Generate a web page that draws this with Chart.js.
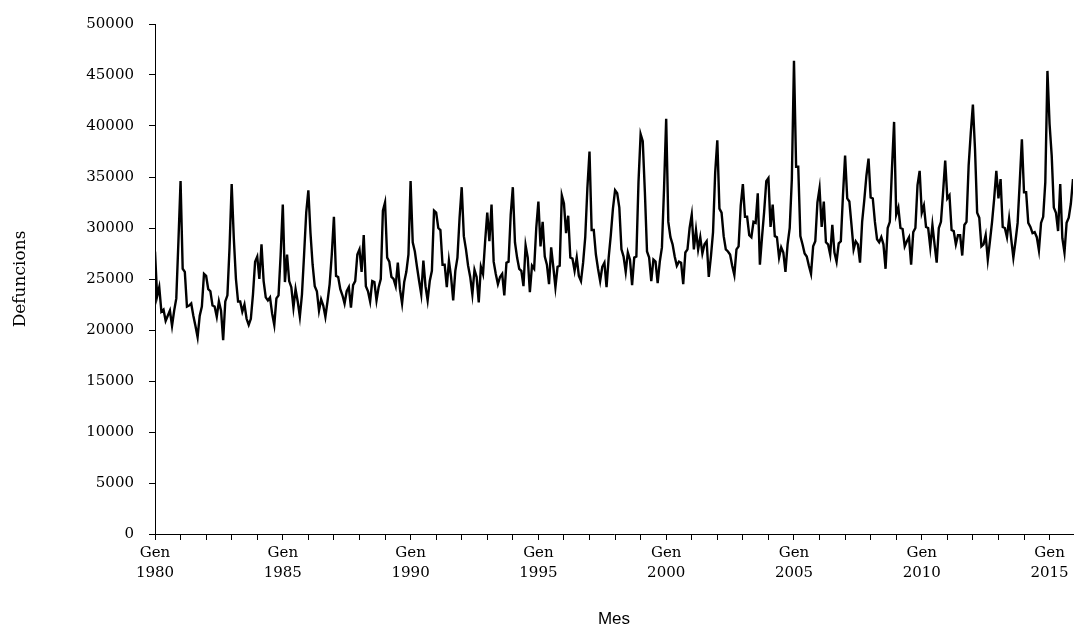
<!DOCTYPE html>
<html>
<head>
<meta charset="utf-8">
<script src="https://cdn.jsdelivr.net/npm/chart.js@4"></script>
<style>
  html, body { margin: 0; padding: 0; background: #fff; }
  #grafic { display: block; }
</style>
</head>
<body>
<canvas id="grafic" width="1077" height="632"></canvas>
<script>
// Defuncions mensuals, des de gener de 1980
const anyInici = 1980;
const nomMesos = ["Gen", "Feb", "Mar", "Abr", "Mai", "Jun", "Jul", "Ago", "Set", "Oct", "Nov", "Des"];

const defuncions = [
  27700, 23300, 24200, 21800, 22000, 20900, 21400, 21900, 20400, 21900, 23100, 28700,
  34600, 26000, 25700, 22300, 22400, 22600, 21400, 20400, 19300, 21400, 22300, 25500,
  25300, 24000, 23800, 22400, 22300, 21300, 22800, 21900, 19000, 22800, 23400, 28100,
  34300, 29000, 25000, 22800, 22800, 21800, 22500, 21100, 20500, 21100, 23500, 26700,
  27200, 25000, 28400, 24800, 23200, 22900, 23200, 21600, 20500, 23100, 23400, 27400,
  32300, 24700, 27400, 24800, 24200, 22200, 24000, 22800, 21300, 23500, 27400, 31500,
  33700, 29500, 26400, 24300, 23800, 21900, 23000, 22400, 21300, 22800, 24500, 27400,
  31100, 25300, 25200, 24000, 23400, 22600, 23800, 24200, 22200, 24400, 24800, 27400,
  27900, 25700, 29300, 24300, 23800, 22800, 24800, 24700, 22900, 24200, 25000, 31700,
  32500, 27100, 26700, 25200, 25000, 24300, 26600, 24000, 22600, 24700, 25700, 27400,
  34600, 28600, 27700, 26200, 24800, 23500, 26800, 24300, 22900, 24800, 25800, 31700,
  31500, 30000, 29800, 26400, 26400, 24200, 26800, 25200, 22900, 25800, 27100, 31000,
  34000, 29200, 27900, 26300, 25200, 23500, 25900, 25200, 22700, 26200, 25500, 28700,
  31500, 28700, 32300, 26700, 25500, 24500, 25200, 25500, 23400, 26600, 26700, 31300,
  34000, 28600, 27100, 26000, 25800, 24300, 28300, 27100, 23700, 26300, 26000, 30000,
  32600, 28200, 30600, 27200, 26400, 24500, 28100, 26200, 24200, 26200, 26300, 33200,
  32400, 29500, 31200, 27100, 27000, 25800, 27100, 25300, 24800, 26600, 29100, 33900,
  37500, 29800, 29800, 27400, 26000, 24800, 26200, 26600, 24200, 27100, 29300, 31900,
  33700, 33400, 32000, 27900, 27200, 25700, 27600, 26900, 24400, 27100, 27200, 34500,
  39200, 38500, 33500, 27700, 27100, 24800, 26900, 26700, 24600, 26700, 28100, 33900,
  40700, 30600, 29100, 28400, 27200, 26300, 26700, 26600, 24500, 27600, 27900, 30000,
  31300, 27900, 29800, 27900, 29100, 27500, 28400, 28700, 25200, 27200, 29600, 35400,
  38600, 31900, 31500, 29200, 27900, 27700, 27400, 26300, 25400, 27900, 28200, 32200,
  34300, 31100, 31100, 29300, 29100, 30600, 30500, 33400, 26400, 29100, 31600, 34600,
  34900, 30100, 32300, 29200, 29100, 27100, 28100, 27600, 25700, 28400, 30000, 34800,
  46400, 36000, 36000, 29200, 28400, 27500, 27200, 26300, 25500, 28200, 28700, 32500,
  33900, 30100, 32600, 28600, 28400, 27400, 30300, 27600, 26700, 28500, 28700, 33200,
  37100, 32900, 32600, 30300, 27900, 28700, 28400, 26600, 30600, 32700, 35100, 36800,
  33000, 32900, 30600, 28900, 28600, 29100, 28400, 26000, 30000, 30600, 35800, 40400,
  31300, 32000, 30000, 29900, 28200, 28700, 29100, 26400, 29600, 30000, 34200, 35600,
  31500, 32200, 30100, 30000, 28100, 30300, 28400, 26600, 30000, 30600, 33500, 36600,
  32900, 33200, 29800, 29700, 28400, 29300, 29300, 27300, 30300, 30600, 36100, 39300,
  42100, 37700, 31500, 31000, 28200, 28400, 29300, 26900, 28700, 30600, 32900, 35600,
  32900, 34800, 30100, 30000, 29100, 30900, 28900, 27100, 28700, 30500, 34500, 38700,
  33500, 33500, 30500, 30100, 29500, 29600, 29100, 27800, 30500, 31100, 34500, 45400,
  40200, 37100, 32000, 31500, 29700, 34300, 29000, 27600, 30500, 31000, 32400, 34800
];

const valorsY = [0, 5000, 10000, 15000, 20000, 25000, 30000, 35000, 40000, 45000, 50000];

// etiqueta de cada mes: "Gen 1980", "Feb 1980", ...
const mesos = defuncions.map((v, i) => nomMesos[i % 12] + " " + (anyInici + Math.floor(i / 12)));

const lletraSerif = { family: "'DejaVu Serif', serif", size: 15 };

new Chart(document.getElementById("grafic"), {
  type: "line",
  data: {
    datasets: [{
      label: "Defuncions",
      data: defuncions.map((v, i) => ({ x: i, y: v })),
      borderColor: "#000",
      borderWidth: 2.4,
      pointRadius: 0,
      tension: 0,
      fill: false
    }]
  },
  options: {
    responsive: false,
    animation: false,
    layout: { padding: { left: 0, right: 4, top: 16, bottom: 0 } },
    plugins: {
      legend: { display: false },
      tooltip: { enabled: false }
    },
    scales: {
      x: {
        type: "linear",
        min: 0,
        max: defuncions.length - 1,
        afterBuildTicks: (scale) => {
          // una marca per any, etiqueta cada cinc anys
          const t = [];
          for (let i = 0; i < defuncions.length; i += 12) t.push({ value: i });
          scale.ticks = t;
        },
        afterFit: (scale) => { scale.height = 98; },
        ticks: {
          autoSkip: false,
          maxRotation: 0,
          padding: 3,
          color: "#000",
          font: { ...lletraSerif, lineHeight: 1.32 },
          callback: (v) => v % 60 === 0 ? mesos[v].split(" ") : ""
        },
        grid: {
          drawOnChartArea: false,
          drawTicks: true,
          tickLength: 6,
          tickColor: "#000"
        },
        border: { display: true, color: "#000", width: 1 },
        title: {
          display: true,
          text: "Mes",
          color: "#000",
          font: { family: "'Liberation Sans', sans-serif", size: 17 },
          padding: { top: 0, bottom: 2 }
        }
      },
      y: {
        min: 0,
        max: 50000,
        afterBuildTicks: (scale) => { scale.ticks = valorsY.map(v => ({ value: v })); },
        afterFit: (scale) => { scale.width = 155; },
        ticks: {
          padding: 15,
          color: "#000",
          font: lletraSerif,
          callback: (v) => String(v)
        },
        grid: {
          drawOnChartArea: false,
          drawTicks: true,
          tickLength: 6,
          tickColor: "#000"
        },
        border: { display: true, color: "#000", width: 1 },
        title: {
          display: true,
          text: "Defuncions",
          color: "#000",
          font: { family: "'DejaVu Serif', serif", size: 17 },
          padding: { top: 10, bottom: 0 }
        }
      }
    }
  }
});
</script>
</body>
</html>
